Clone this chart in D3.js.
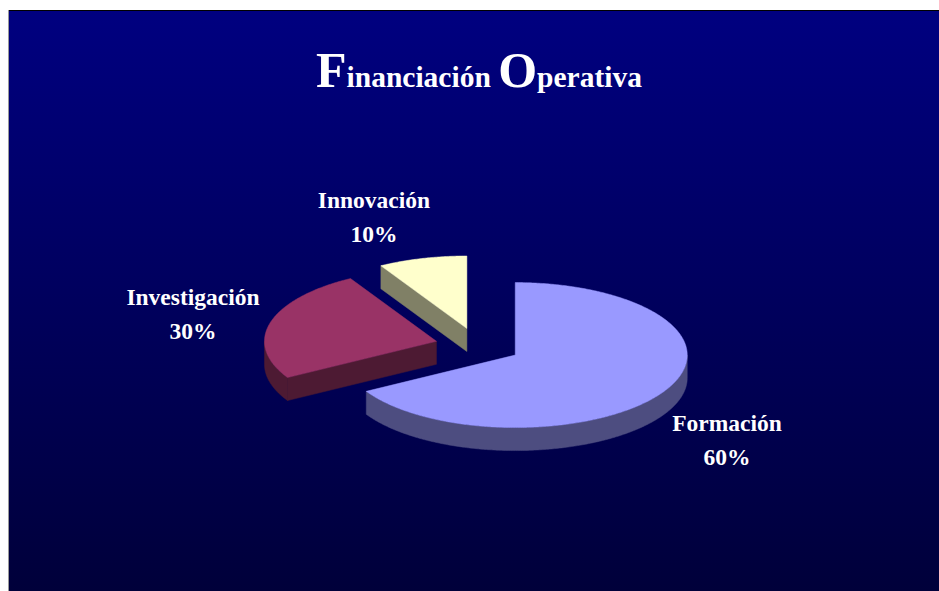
<!DOCTYPE html>
<html>
<head>
<meta charset="utf-8">
<script src="https://cdn.jsdelivr.net/npm/d3@7"></script>
<style>
  html, body { margin: 0; padding: 0; background: #ffffff; }
  svg { display: block; }
</style>
</head>
<body>
<div id="chart"></div>
<script>
// ---- data ----
const categories = ["Formación", "Investigación", "Innovación"];
const sliceValues = [80, 30, 10];            // slice sizes as drawn (240°, 90°, 30°)
const percentLabels = ["60%", "30%", "10%"]; // labels as printed on the chart
const titleParts = [["F", true], ["inanciación ", false], ["O", true], ["perativa", false]];

// ---- layout / style ----
const W = 939, H = 591;
const topColors = ["#9999FF", "#993366", "#FFFFCC"];
const sideColors = ["#4D4D80", "#4D1A33", "#808066"];
const cx = 478, cy = 346, rx = 172, ry = 72.5, depth = 23, explode = 0.25;
const labelLayout = [
  { x: 727, y: 431 },
  { x: 193, y: 305 },
  { x: 374, y: 208 }
];

const svg = d3.select("#chart").append("svg")
  .attr("width", W).attr("height", H);

const defs = svg.append("defs");
const grad = defs.append("linearGradient").attr("id", "bg")
  .attr("x1", 0).attr("y1", 0).attr("x2", 0).attr("y2", 1);
grad.append("stop").attr("offset", "0%").attr("stop-color", "#000080");
grad.append("stop").attr("offset", "100%").attr("stop-color", "#00003A");

svg.append("rect").attr("x", 8).attr("y", 10).attr("width", W - 8).attr("height", H - 10)
  .attr("fill", "url(#bg)");
svg.append("line").attr("x1", 8).attr("x2", W).attr("y1", 10.5).attr("y2", 10.5)
  .attr("stroke", "#000000").attr("stroke-width", 1);
svg.append("line").attr("x1", 8.5).attr("x2", 8.5).attr("y1", 10).attr("y2", H)
  .attr("stroke", "#9a9a9a").attr("stroke-width", 1);

// title
const title = svg.append("text")
  .attr("x", 479).attr("y", 87)
  .attr("text-anchor", "middle")
  .attr("font-family", "'Liberation Serif', 'Times New Roman', serif")
  .attr("font-weight", "bold")
  .attr("fill", "#ffffff");
titleParts.forEach(([t, big]) => {
  title.append("tspan").attr("font-size", big ? 50 : 29.5).text(t);
});

// scales: unit circle -> screen ellipse
const x = d3.scaleLinear().domain([-1, 1]).range([cx - rx, cx + rx]);
const y = d3.scaleLinear().domain([-1, 1]).range([cy - ry, cy + ry]);

const pie = d3.pie().sort(null).value(d => d)(sliceValues);
const line = d3.line();

function pt(a, r, off, dz) {
  return [x(off[0] + r * Math.sin(a)), y(off[1] - r * Math.cos(a)) + (dz || 0)];
}
function arcPts(a0, a1, off, dz) {
  const n = Math.max(2, Math.ceil(Math.abs(a1 - a0) / 0.01));
  return d3.range(n + 1).map(i => pt(a0 + (a1 - a0) * i / n, 1, off, dz));
}

const slices = pie.map((p, i) => {
  const mid = (p.startAngle + p.endAngle) / 2;
  const off = [explode * Math.sin(mid), -explode * Math.cos(mid)];
  return { p, i, mid, off };
}).sort((a, b) => (-Math.cos(a.mid)) - (-Math.cos(b.mid)));

const g = svg.append("g");
slices.forEach(s => {
  const { p, i, off } = s;
  const a0 = p.startAngle, a1 = p.endAngle;
  const c0 = pt(0, 0, off, 0), c1 = pt(0, 0, off, depth);
  // radial walls
  if (Math.sin(a0) < -1e-6) {
    const e0 = pt(a0, 1, off, 0), e1 = pt(a0, 1, off, depth);
    g.append("path").attr("d", line([c0, e0, e1, c1]) + "Z")
      .attr("fill", sideColors[i]).attr("stroke", sideColors[i]).attr("stroke-width", 0.5);
  }
  if (Math.sin(a1) > 1e-6) {
    const e0 = pt(a1, 1, off, 0), e1 = pt(a1, 1, off, depth);
    g.append("path").attr("d", line([c0, e0, e1, c1]) + "Z")
      .attr("fill", sideColors[i]).attr("stroke", sideColors[i]).attr("stroke-width", 0.5);
  }
  // curved outer wall (front half only)
  const lo = Math.max(a0, Math.PI / 2), hi = Math.min(a1, 3 * Math.PI / 2);
  if (lo < hi) {
    const ptsTop = arcPts(lo, hi, off, 0);
    const ptsBot = arcPts(hi, lo, off, depth);
    g.append("path").attr("d", line(ptsTop.concat(ptsBot)) + "Z")
      .attr("fill", sideColors[i]).attr("stroke", sideColors[i]).attr("stroke-width", 0.5);
  }
  // top face
  const topPts = [c0].concat(arcPts(a0, a1, off, 0));
  g.append("path").attr("d", line(topPts) + "Z")
    .attr("fill", topColors[i]).attr("stroke", topColors[i]).attr("stroke-width", 0.5);
});

// labels
const labels = svg.append("g")
  .attr("font-family", "'Liberation Serif', 'Times New Roman', serif")
  .attr("font-weight", "bold")
  .attr("font-size", 23.5)
  .attr("fill", "#ffffff")
  .attr("text-anchor", "middle");
categories.forEach((c, i) => {
  const t = labels.append("text").attr("x", labelLayout[i].x).attr("y", labelLayout[i].y);
  t.append("tspan").attr("x", labelLayout[i].x).text(c);
  t.append("tspan").attr("x", labelLayout[i].x).attr("dy", 34).text(percentLabels[i]);
});
</script>
</body>
</html>
